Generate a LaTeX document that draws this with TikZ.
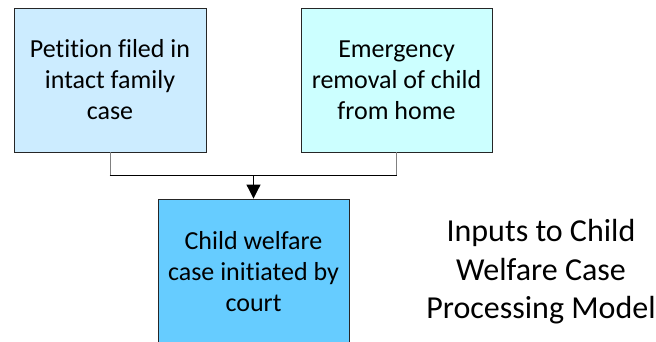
\documentclass[tikz,border=0pt]{standalone}
\usepackage{fontspec}
\setmainfont{Carlito}[Ligatures=NoCommon]
\usetikzlibrary{arrows.meta}
\definecolor{boxA}{RGB}{204,236,255}
\definecolor{boxB}{RGB}{204,255,255}
\definecolor{boxC}{RGB}{102,204,255}
\tikzset{
  box/.style={draw=black!85, line width=0.9pt, align=center, inner sep=0pt,
    font=\fontsize{26}{31}\selectfont},
  feed/.style={draw=black!50, line width=1pt},
  bar/.style={draw=black, line width=1pt},
}
\begin{document}
\begin{tikzpicture}[x=1pt,y=-1pt]
\useasboundingbox (0,0) rectangle (656,341);
\clip (0,0) rectangle (656,341);
\node[box, fill=boxA, minimum width=192pt, minimum height=144pt] (b1) at (110,80)
  {Petition f\kern0pt iled in\\intact family\\case};
\node[box, fill=boxB, minimum width=191pt, minimum height=144pt] (b2) at (396.5,80)
  {Emergency\\removal of child\\from home};
\node[box, fill=boxC, minimum width=191pt, minimum height=146pt] (b3) at (253.5,272)
  {Child welfare\\case initiated by\\court};
\node[align=center, font=\fontsize{32}{38.5}\selectfont] (title) at (541,272)
  {Inputs to Child\\Welfare Case\\Processing Model};
\coordinate (j) at (253.5,175);
\draw[feed] (b1.south) -- (b1.south |- j);
\draw[feed] (b2.south) -- (b2.south |- j);
\draw[bar] ([xshift=-0.5pt]b1.south |- j) -- ([xshift=0.5pt]b2.south |- j);
\draw[bar, -{Triangle[width=14pt,length=14pt]}] (j) -- (b3.north);
\end{tikzpicture}
\end{document}
